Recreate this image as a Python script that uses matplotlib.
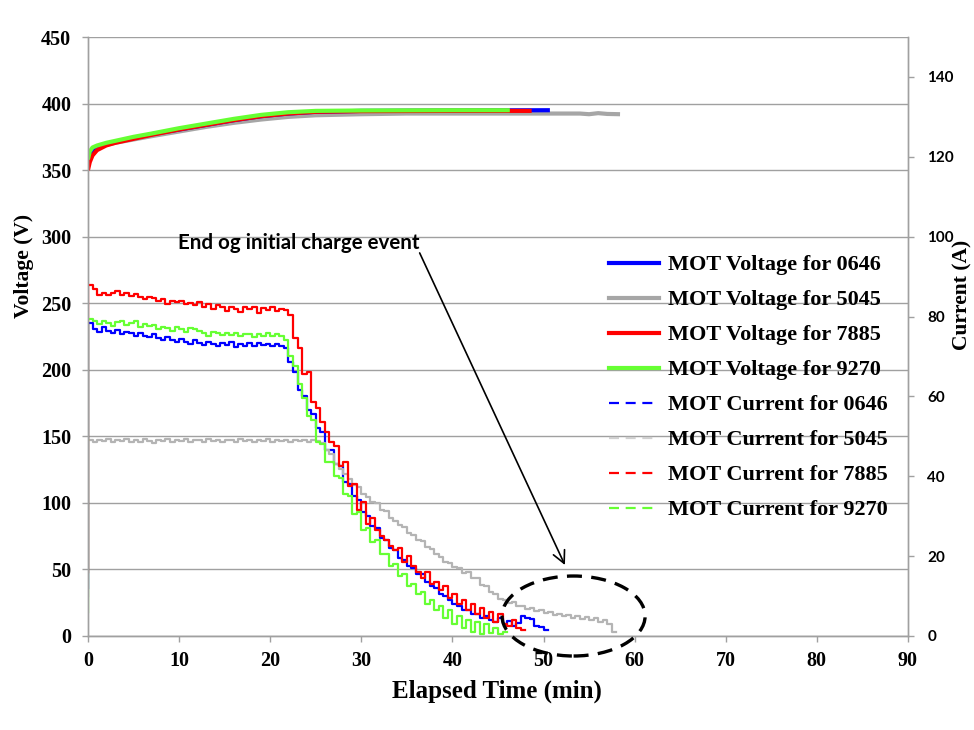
import numpy as np
import matplotlib
matplotlib.use("Agg")
import matplotlib.pyplot as plt
from matplotlib.lines import Line2D
from matplotlib.patches import Ellipse

SERIF = "Liberation Serif"
SANS = "Lato"

# ---------------- data ----------------
units = ["0646", "5045", "7885", "9270"]
colors = {"0646": "#0000ff", "5045": "#a6a6a6", "7885": "#ff0000", "9270": "#66ff33"}
current_colors = {"0646": "#0000ff", "5045": "#b4b4b4", "7885": "#ff0000", "9270": "#66ff33"}

# MOT voltage (V) vs elapsed time (min)
volt_t_0646 = [0, 0.2, 0.5, 1, 2, 3, 5, 7, 10, 13, 16, 19, 22, 25, 30, 40, 50.7]
volt_v_0646 = [354, 360, 364, 366.5, 369.5, 371, 374, 377, 380.5, 384, 387.5, 390.5, 392.5, 393.8, 394.5, 394.8, 395]

volt_t_5045 = [0, 0.2, 0.5, 1, 2, 3, 5, 7, 10, 13, 16, 19, 22, 25, 30, 35, 45, 54, 55, 56, 57, 58.4]
volt_v_5045 = [356, 361, 364, 366, 369, 370.5, 373, 375.5, 379, 382.5, 385.5, 388, 390, 391.2, 392, 392.5, 392.5, 392.5, 392.0, 392.8, 392.2, 392.0]

volt_t_7885 = [0, 0.2, 0.5, 1, 2, 3, 5, 7, 10, 13, 16, 19, 22, 25, 30, 40, 48.7]
volt_v_7885 = [350, 356, 361, 365, 368.5, 370.5, 373.5, 376.5, 380.5, 384, 387.5, 390.5, 392.5, 393.8, 394.3, 394.5, 394.5]

volt_t_9270 = [0, 0.2, 0.5, 1, 2, 3, 5, 7, 10, 13, 16, 19, 22, 25, 30, 40, 46.3]
volt_v_9270 = [358, 364, 367, 368.5, 370.5, 372, 375, 377.5, 381.5, 385, 388.5, 391.5, 393.5, 394.5, 394.8, 395, 395]

# MOT current (A), logged every 0.5 min from t = 0
cur_step = 0.5
cur_0646 = [12.0, 78.3, 77.0, 76.2, 77.3, 76.5, 75.8, 76.6, 75.5, 76.2,
            75.9, 75.0, 75.8, 75.2, 74.8, 75.5, 74.6, 74.2, 74.9, 74.0,
            73.5, 74.3, 73.6, 73.2, 74.0, 73.4, 72.8, 73.6, 73.1, 72.5,
            73.3, 72.9, 73.5, 72.4, 73.2, 72.7, 73.4, 72.6, 73.3, 72.8,
            73.0, 72.5, 73.2, 72.6, 72.0, 68.5, 66.0, 61.5, 60.0, 56.5,
            55.5, 52.0, 51.0, 46.5, 46.5, 43.0, 42.5, 38.5, 38.0, 35.0,
            34.0, 31.0, 30.0, 27.5, 27.0, 24.5, 24.0, 22.0, 21.5, 19.5,
            19.0, 17.5, 17.0, 15.5, 15.5, 13.5, 12.5, 12.0, 10.5, 10.0,
            9.0, 8.0, 7.5, 6.5, 6.5, 5.5, 5.5, 4.5, 5.0, 4.0,
            3.5, 4.5, 3.0, 3.8, 2.5, 3.2, 5.0, 4.6, 4.2, 2.5,
            2.2, 1.5]
cur_5045 = [10.0, 49.0, 48.6, 49.2, 48.8, 49.3, 48.5, 49.1, 48.9, 49.3,
            48.6, 49.2, 48.7, 49.3, 48.9, 48.4, 49.2, 48.8, 49.3, 48.6,
            49.1, 48.9, 49.3, 48.5, 49.0, 49.2, 48.7, 49.3, 48.8, 49.1,
            48.6, 49.2, 49.0, 48.5, 49.3, 48.9, 49.2, 48.7, 49.1, 48.8,
            49.3, 48.6, 49.2, 48.9, 49.0, 48.7, 49.2, 48.8, 49.1, 48.5,
            49.0, 48.8, 48.3, 46.5, 45.5, 43.0, 41.8, 40.5, 39.2, 37.8,
            37.2, 35.5, 34.8, 33.5, 33.2, 31.5, 31.2, 29.5, 28.8, 27.8,
            27.2, 25.8, 25.4, 24.0, 23.8, 22.2, 21.8, 20.5, 19.8, 18.6,
            18.4, 17.2, 17.0, 15.8, 16.0, 14.5, 14.4, 12.8, 12.4, 11.0,
            10.4, 9.2, 9.0, 8.2, 8.4, 7.5, 7.6, 6.8, 7.0, 6.2,
            6.6, 5.8, 6.0, 5.3, 5.6, 4.9, 5.3, 4.6, 5.0, 4.3,
            4.7, 4.0, 4.4, 3.6, 4.0, 3.0, 1.0]
cur_7885 = [16.0, 88.0, 87.0, 85.5, 86.0, 85.3, 85.8, 86.3, 85.5, 85.9,
            85.2, 85.6, 84.8, 84.5, 85.0, 84.6, 84.0, 84.4, 83.2, 84.0,
            83.6, 83.8, 83.1, 83.5, 83.0, 83.6, 82.4, 83.2, 82.0, 82.8,
            82.3, 81.5, 82.4, 82.0, 81.2, 82.3, 81.8, 82.4, 81.0, 82.1,
            81.6, 82.3, 81.4, 82.0, 81.7, 80.5, 74.5, 72.0, 65.5, 66.0,
            58.5, 57.0, 53.5, 51.0, 48.5, 47.5, 42.5, 43.5, 37.5, 38.0,
            31.5, 33.5, 28.0, 29.5, 26.5, 25.0, 24.0, 22.5, 21.5, 22.0,
            18.5, 20.0, 17.5, 16.0, 14.5, 16.0, 13.0, 13.5, 11.5, 12.5,
            9.5, 10.5, 8.0, 9.0, 6.5, 8.0, 5.5, 7.0, 4.5, 6.0,
            3.5, 5.5, 3.0, 2.5, 4.0, 2.0, 1.5]
cur_9270 = [6.0, 79.5, 79.0, 78.2, 79.0, 78.5, 77.6, 78.6, 78.8, 77.9,
            78.4, 78.9, 77.5, 78.2, 77.6, 78.0, 76.8, 77.5, 77.2, 76.4,
            77.3, 77.0, 76.2, 77.1, 76.8, 76.3, 76.0, 75.2, 76.1, 75.8,
            75.4, 76.0, 75.3, 75.8, 75.1, 75.7, 75.6, 74.9, 75.5, 75.2,
            75.8, 75.0, 75.6, 75.2, 74.0, 70.0, 67.5, 63.0, 59.5, 55.0,
            54.0, 48.5, 48.0, 43.5, 43.5, 40.0, 39.5, 35.5, 35.0, 30.5,
            31.0, 26.5, 27.0, 23.5, 24.0, 20.5, 20.5, 17.5, 18.0, 15.0,
            15.5, 12.5, 13.0, 10.5, 11.0, 8.0, 9.0, 6.5, 7.5, 4.5,
            6.5, 3.0, 5.0, 2.0, 4.0, 1.0, 3.5, 0.5, 3.0, 0.8,
            2.0, 0.5, 1.0]

currents = {"0646": cur_0646, "5045": cur_5045, "7885": cur_7885, "9270": cur_9270}
voltages = {"0646": (volt_t_0646, volt_v_0646), "5045": (volt_t_5045, volt_v_5045),
            "7885": (volt_t_7885, volt_v_7885), "9270": (volt_t_9270, volt_v_9270)}

annotation_text = "End og initial charge event"
x_ticks = [0, 10, 20, 30, 40, 50, 60, 70, 80, 90]
v_ticks = [0, 50, 100, 150, 200, 250, 300, 350, 400, 450]
a_ticks = [0, 20, 40, 60, 80, 100, 120, 140]

# ---------------- figure ----------------
GRID = "#a0a0a0"
fig = plt.figure(figsize=(9.74, 7.30), dpi=100)
ax = fig.add_axes([0.0903, 0.1288, 0.8419, 0.8205])
ax2 = ax.twinx()

ax.set_xlim(0, 90)
ax.set_ylim(0, 450)
ax2.set_ylim(0, 150)
ax.set_xticks(x_ticks)
ax.set_yticks(v_ticks)
ax2.set_yticks(a_ticks)

ax.grid(axis="y", color=GRID, linewidth=1.0)
ax.set_axisbelow(True)

for a in (ax, ax2):
    a.spines["top"].set_visible(False)
    for s in ("left", "right", "bottom"):
        a.spines[s].set_color(GRID)
        a.spines[s].set_linewidth(1.0)

ax.tick_params(axis="both", direction="out", length=4, width=1, color=GRID)
ax.tick_params(axis="y", pad=8)
ax.tick_params(axis="x", pad=7)
ax2.tick_params(axis="y", direction="out", length=4, width=1, color=GRID, pad=10)

for lbl in ax.get_xticklabels() + ax.get_yticklabels():
    lbl.set_fontfamily(SERIF)
    lbl.set_fontweight("bold")
    lbl.set_fontsize(14.5)
for lbl in ax2.get_yticklabels():
    lbl.set_fontfamily(SANS)
    lbl.set_fontweight("bold")
    lbl.set_fontsize(11)

ax.set_xlabel("Elapsed Time (min)", fontfamily=SERIF, fontweight="bold", fontsize=18)
ax.xaxis.set_label_coords(0.499, -0.072)
ax.set_ylabel("Voltage (V)", fontfamily=SERIF, fontweight="bold", fontsize=15.5)
ax.yaxis.set_label_coords(-0.066, 0.618)
ax2.set_ylabel("Current (A)", fontfamily=SERIF, fontweight="bold", fontsize=15.5)
ax2.yaxis.set_label_coords(1.054, 0.57)

# voltage traces (left axis)
for u in ["5045", "0646", "7885", "9270"]:
    t, v = voltages[u]
    ax.plot(t, v, color=colors[u], linewidth=3.0, solid_capstyle="butt")

# current traces (right axis)
for u in ["0646", "5045", "7885", "9270"]:
    vals = currents[u]
    t = np.arange(len(vals)) * cur_step
    ax2.plot(t, vals, color=current_colors[u], linewidth=1.6, drawstyle="steps-pre")

# annotation with arrow and dashed ellipse
ax2.annotate(annotation_text, xy=(52.35, 53.3), xycoords=ax.transData,
             xytext=(9.9, 295.3), textcoords=ax.transData,
             ha="left", va="center", fontfamily=SANS, fontweight="bold", fontsize=14.8,
             arrowprops=dict(arrowstyle="->", color="black", lw=1.2,
                             mutation_scale=22, shrinkA=0, shrinkB=0,
                             patchA=None, relpos=(1.0, 0.0)))
ell = Ellipse((53.3, 15.0), width=15.7, height=60.1, transform=ax.transData,
              fill=False, edgecolor="black", linewidth=2.4, linestyle=(0, (4.5, 2.8)),
              clip_on=False, zorder=5)
ax2.add_patch(ell)

# legend
handles = []
labels = []
for u in units:
    handles.append(Line2D([], [], color=colors[u], linewidth=3.0))
    labels.append(f"MOT Voltage for {u}")
for u in units:
    c = "#d0d0d0" if u == "5045" else current_colors[u]
    handles.append(Line2D([], [], color=c, linewidth=1.6, linestyle=(0, (4.5, 3))))
    labels.append(f"MOT Current for {u}")
leg = ax2.legend(handles, labels, loc="upper left",
                 bbox_to_anchor=(600 / 974, 1 - 246 / 730), bbox_transform=fig.transFigure,
                 frameon=False, handlelength=2.25, handletextpad=0.4,
                 labelspacing=0.65, borderaxespad=0,
                 prop=dict(family=SERIF, weight="bold", size=16))

fig.savefig("out.png", dpi=100)
